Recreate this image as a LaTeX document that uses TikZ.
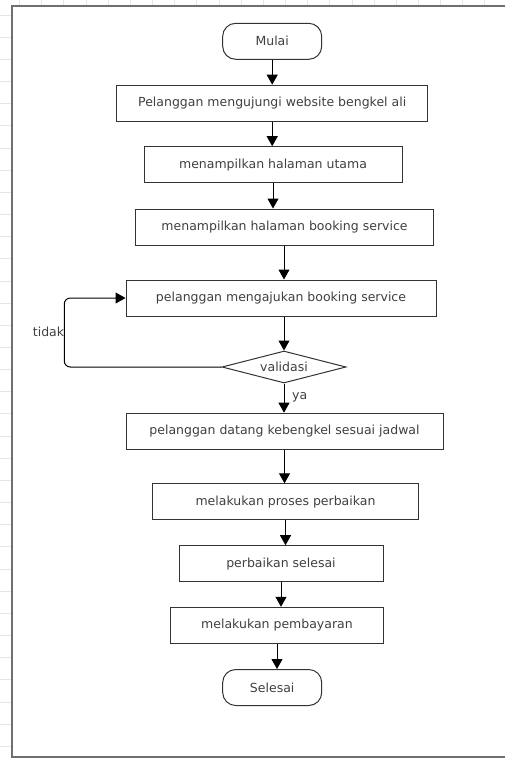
\documentclass[tikz,border=0pt]{standalone}
\usepackage{fontspec}
\setmainfont{DejaVu Sans}
\usetikzlibrary{shapes.geometric,arrows.meta}
\definecolor{framec}{HTML}{707070}
\definecolor{gridc}{HTML}{E6E6E6}
\definecolor{linec}{HTML}{333333}
\definecolor{textc}{HTML}{404040}
\begin{document}
\begin{tikzpicture}[x=1pt,y=-1pt,
  lbl/.style={font=\fontsize{12.5}{14}\selectfont, text=textc},
  proc/.style={lbl, draw=linec, line width=1pt, fill=white, inner sep=0pt, minimum height=36pt},
  term/.style={lbl, draw=linec, line width=1pt, fill=white, rounded corners=13pt, minimum width=99pt, minimum height=36pt, inner sep=0pt},
  dec/.style={lbl, diamond, draw=linec, line width=1pt, fill=white, aspect=4, inner sep=0pt, minimum width=124pt, minimum height=32pt},
  arr/.style={draw=black, line width=1pt, -{Triangle[length=10pt,width=11pt]}},
  gridline/.style={draw=gridc, line width=0.8pt},
  frameline/.style={draw=framec, line width=1.6pt}]
\useasboundingbox (0,0) rectangle (505,758);
% faint grid outside the frame
\foreach \i in {0,...,22} \draw[gridline] (19.5+22.16*\i,0) -- (19.5+22.16*\i,5);
\foreach \i in {0,...,33} \draw[gridline] (0,15+22.16*\i) -- (11,15+22.16*\i);
% frame
\draw[frameline] (515,6) -- (12,6) -- (12,757) -- (515,757);

% nodes
\node[term] (start) at (272.2,41.3) {Mulai};
\node[proc, minimum width=311pt] (b1) at (272.2,103.2) {Pelanggan mengujungi website bengkel ali};
\node[proc, minimum width=258pt] (b2) at (273,164.7) {menampilkan halaman utama};
\node[proc, minimum width=298pt] (b3) at (284.5,227) {menampilkan halaman booking service};
\node[proc, minimum width=310pt] (b4) at (281,298) {pelanggan mengajukan booking service};
\node[dec] (val) at (284,367) {validasi};
\node[proc, minimum width=317pt] (b5) at (284.5,431.2) {pelanggan datang kebengkel sesuai jadwal};
\node[proc, minimum width=266pt] (b6) at (285.5,501.8) {melakukan proses perbaikan};
\node[proc, minimum width=204pt] (b7) at (281,563.7) {perbaikan selesai};
\node[proc, minimum width=213pt] (b8) at (277,625.3) {melakukan pembayaran};
\node[term] (end) at (272.2,687.5) {Selesai};

% connectors
\draw[arr] (start.south) -- (start.south |- b1.north);
\draw[arr] (b1.south) -- (b1.south |- b2.north);
\draw[arr] (b2.south) -- (b2.south |- b3.north);
\draw[arr] (b3.south -| val.north) -- (b4.north -| val.north);
\draw[arr] (b4.south -| val.north) -- (val.north);
\draw[arr] (val.south) -- (val.south |- b5.north);
\draw[arr] (b5.south) -- (b5.south |- b6.north);
\draw[arr] (b6.south) -- (b6.south |- b7.north);
\draw[arr] (b7.south) -- (b7.south |- b8.north);
\draw[arr] (b8.south) -- (b8.south |- end.north);

% loop back (tidak)
\coordinate (lp) at (64.3,332);
\draw[arr, rounded corners=6pt] (val.west) -| (lp) |- (b4.west);
\node[lbl, anchor=east, inner sep=0pt] (tidak) at (lp) {tidak};
\node[lbl, anchor=west, inner sep=0pt] (ya) at (292,397) {ya};
\end{tikzpicture}
\end{document}
